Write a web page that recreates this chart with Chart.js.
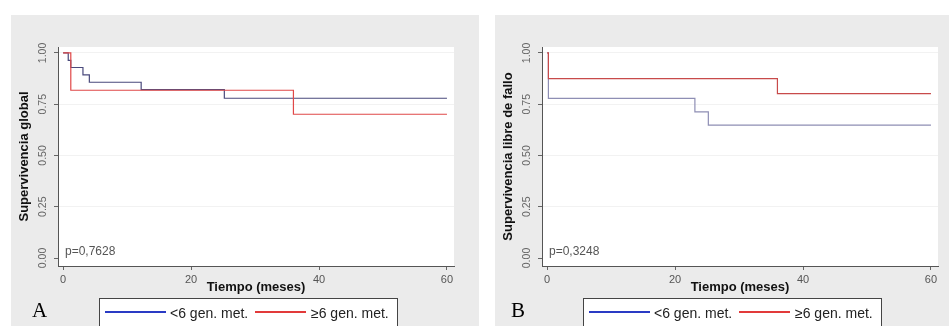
<!DOCTYPE html>
<html>
<head>
<meta charset="utf-8">
<script src="https://cdn.jsdelivr.net/npm/chart.js@4.4.1/dist/chart.umd.min.js"></script>
<style>
  html, body { margin: 0; padding: 0; background: #fff; width: 949px; height: 326px; overflow: hidden; }
  .panel { position: absolute; top: 15px; height: 311px; background: #ebebeb; overflow: hidden; }
  #panelA { left: 11px; width: 468px; }
  #panelB { left: 495px; width: 454px; }
  .panel canvas { position: absolute; left: 0; top: 0; }
  .letra { position: absolute; top: 285px; font: 21px/21px "Liberation Serif", "Times New Roman", serif; color: #000; }
  .leyenda { position: absolute; left: 88px; top: 283px; width: 297px; height: 40px; background: #fff; border: 1.5px solid #444; }
  .leyenda .muestra { position: absolute; top: 12px; height: 2px; }
  .leyenda span { position: absolute; top: 7px; font: 14px/14px "Liberation Sans", Arial, sans-serif; color: #222; white-space: nowrap; }
</style>
</head>
<body>
<div class="panel" id="panelA">
  <canvas id="kmA" width="468" height="311"></canvas>
  <div class="letra" style="left:21px">A</div>
  <div class="leyenda">
    <div class="muestra" style="left:5px;width:61px;background:#2a3bc4"></div>
    <span style="left:70px">&lt;6 gen. met.</span>
    <div class="muestra" style="left:155px;width:51px;background:#e23a3a"></div>
    <span style="left:211px">≥6 gen. met.</span>
  </div>
</div>
<div class="panel" id="panelB">
  <canvas id="kmB" width="454" height="311"></canvas>
  <div class="letra" style="left:16px">B</div>
  <div class="leyenda">
    <div class="muestra" style="left:5px;width:61px;background:#2a3bc4"></div>
    <span style="left:70px">&lt;6 gen. met.</span>
    <div class="muestra" style="left:155px;width:51px;background:#e23a3a"></div>
    <span style="left:211px">≥6 gen. met.</span>
  </div>
</div>
<script>
// Kaplan-Meier estimates: time of each step (months) and survival after it
const tiemposA_menos6 = [0, 0.8, 1.2, 3.1, 4.1, 12.2, 25.2, 60];
const survA_menos6 = [1, 0.964, 0.929, 0.893, 0.857, 0.821, 0.779, 0.779];
const tiemposA_mas6 = [0, 1.2, 36, 60];
const survA_mas6 = [1, 0.818, 0.701, 0.701];

const tiemposB_menos6 = [0, 0.2, 23.1, 25.2, 60];
const survB_menos6 = [1, 0.778, 0.713, 0.648, 0.648];
const tiemposB_mas6 = [0, 0.2, 36, 60];
const survB_mas6 = [1, 0.875, 0.802, 0.802];

const xTicks = [0, 20, 40, 60];
const yTicks = [0, 0.25, 0.5, 0.75, 1];

const toPoints = (t, s) => t.map((x, i) => ({ x: x, y: s[i] }));

// white plot region + log-rank p value in the lower left corner
const plotRegion = {
  id: "plotRegion",
  beforeDraw(chart) {
    const { ctx, chartArea } = chart;
    ctx.save();
    ctx.fillStyle = "#fff";
    ctx.fillRect(chartArea.left, chartArea.top, chartArea.right - chartArea.left, chartArea.bottom - chartArea.top);
    ctx.restore();
  },
  afterDatasetsDraw(chart, args, opts) {
    const { ctx, chartArea } = chart;
    ctx.save();
    ctx.font = '12px "Liberation Sans", Arial, sans-serif';
    ctx.fillStyle = "#555";
    ctx.textBaseline = "alphabetic";
    ctx.fillText(opts.texto, chartArea.left + 7, chartArea.bottom - 11);
    ctx.restore();
  }
};

function curvaKM(canvasId, series, yTitulo, pTexto, padRight) {
  new Chart(document.getElementById(canvasId), {
    type: "line",
    data: {
      datasets: series.map(s => ({
        label: s.label,
        data: toPoints(s.t, s.s),
        borderColor: s.color,
        borderWidth: 1.2,
        pointRadius: 0,
        stepped: true,
        fill: false,
        order: s.order,
      })),
    },
    options: {
      responsive: false,
      animation: false,
      layout: { padding: { top: 32, left: 0, right: padRight, bottom: 0 } },
      plugins: {
        legend: { display: false },
        tooltip: { enabled: false },
        plotRegion: { texto: pTexto },
      },
      scales: {
        x: {
          type: "linear",
          min: -0.8,
          max: 61.1,
          afterBuildTicks: scale => { scale.ticks = xTicks.map(v => ({ value: v })); },
          afterFit: scale => { scale.height = 60; },
          ticks: {
            color: "#555",
            padding: 3,
            maxRotation: 0,
            font: { family: '"Liberation Sans", Arial, sans-serif', size: 11 },
          },
          grid: { drawOnChartArea: false, tickLength: 4, tickColor: "#666" },
          border: { color: "#555", width: 1 },
          title: {
            display: true,
            text: "Tiempo (meses)",
            color: "#111",
            padding: { top: 0, bottom: 31 },
            font: { family: '"Liberation Sans", Arial, sans-serif', size: 13, weight: "bold" },
          },
        },
        y: {
          type: "linear",
          min: -0.039,
          max: 1.029,
          afterBuildTicks: scale => { scale.ticks = yTicks.map(v => ({ value: v })); },
          afterFit: scale => { scale.width = 47; },
          ticks: {
            color: "#666",
            padding: 1,
            minRotation: 90,
            maxRotation: 90,
            crossAlign: "center",
            callback: v => v.toFixed(2),
            font: { family: '"Liberation Sans", Arial, sans-serif', size: 10.5 },
          },
          grid: {
            color: c => (c.tick && c.tick.value === 0 ? "rgba(0,0,0,0)" : "#f2f2f2"),
            tickLength: 4,
            tickColor: "#666",
          },
          border: { color: "#555", width: 1 },
          title: {
            display: true,
            text: yTitulo,
            color: "#111",
            padding: { top: 6, bottom: 0 },
            font: { family: '"Liberation Sans", Arial, sans-serif', size: 13, weight: "bold" },
          },
        },
      },
    },
    plugins: [plotRegion],
  });
}

curvaKM("kmA", [
  { label: "<6 gen. met.", t: tiemposA_menos6, s: survA_menos6, color: "#4a4a7c", order: 1 },
  { label: "≥6 gen. met.", t: tiemposA_mas6, s: survA_mas6, color: "#e04848", order: 0 },
], "Supervivencia global", "p=0,7628", 25);

curvaKM("kmB", [
  { label: "<6 gen. met.", t: tiemposB_menos6, s: survB_menos6, color: "#8e8eb4", order: 1 },
  { label: "≥6 gen. met.", t: tiemposB_mas6, s: survB_mas6, color: "#c84a4a", order: 0 },
], "Supervivencia libre de fallo", "p=0,3248", 11);
</script>
</body>
</html>
